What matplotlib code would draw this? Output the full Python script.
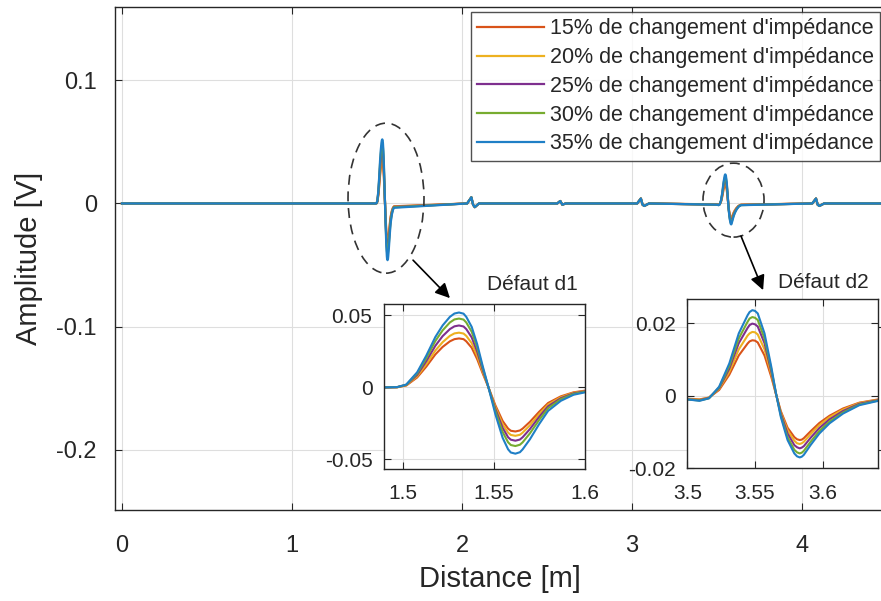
import numpy as np
import matplotlib
matplotlib.use("Agg")
import matplotlib.pyplot as plt
from matplotlib.patches import Ellipse

plt.rcParams['font.family'] = ['Liberation Sans', 'DejaVu Sans']

# series labels and colours (MATLAB default order)
labels = ["15% de changement d'impédance", "20% de changement d'impédance",
          "25% de changement d'impédance", "30% de changement d'impédance",
          "35% de changement d'impédance"]
colors = ['#D95319', '#EDB120', '#7E2F8E', '#77AC30', '#1f7fc6']

# defaut d1 (read from zoom)
d1_x = [1.490, 1.497, 1.502, 1.508, 1.513, 1.518, 1.522, 1.526, 1.5285, 1.531, 1.5335, 1.535, 1.538, 1.541,
        1.544, 1.547, 1.551, 1.555, 1.558, 1.5595, 1.562, 1.5645, 1.566, 1.570, 1.575, 1.580, 1.587,
        1.594, 1.600]
d1_15 = [0, 0.0001, 0.0013, 0.0069, 0.0144, 0.0229, 0.0281, 0.0320, 0.0335, 0.0340, 0.0335, 0.0320, 0.0275,
         0.0196, 0.0098, 0.0007, -0.0124, -0.0233, -0.0286, -0.0301, -0.0306, -0.0299, -0.0286, -0.0239,
         -0.0170, -0.0108, -0.0062, -0.0034, -0.0023]
d1_20 = [0, 0.0001, 0.0015, 0.0077, 0.0161, 0.0256, 0.0314, 0.0358, 0.0375, 0.0380, 0.0374, 0.0358, 0.0307,
         0.0219, 0.0110, 0.0007, -0.0136, -0.0256, -0.0314, -0.0330, -0.0336, -0.0329, -0.0314, -0.0263,
         -0.0187, -0.0119, -0.0068, -0.0037, -0.0026]
d1_25 = [0, 0.0002, 0.0017, 0.0087, 0.0182, 0.0289, 0.0356, 0.0405, 0.0424, 0.0430, 0.0423, 0.0405, 0.0347,
         0.0248, 0.0124, 0.0008, -0.0150, -0.0281, -0.0346, -0.0363, -0.0370, -0.0362, -0.0346, -0.0289,
         -0.0206, -0.0131, -0.0075, -0.0041, -0.0028]
d1_30 = [0, 0.0002, 0.0018, 0.0097, 0.0202, 0.0322, 0.0396, 0.0451, 0.0472, 0.0478, 0.0471, 0.0451, 0.0386,
         0.0276, 0.0138, 0.0009, -0.0165, -0.0310, -0.0381, -0.0400, -0.0407, -0.0398, -0.0381, -0.0319,
         -0.0227, -0.0144, -0.0082, -0.0045, -0.0031]
d1_35 = [0, 0.0002, 0.0020, 0.0105, 0.0220, 0.0350, 0.0430, 0.0490, 0.0513, 0.0520, 0.0512, 0.0490, 0.0420,
         0.0300, 0.0150, 0.0010, -0.0186, -0.0350, -0.0430, -0.0452, -0.0460, -0.0450, -0.0430, -0.0360,
         -0.0256, -0.0163, -0.0093, -0.0051, -0.0035]

# defaut d2
d2_x = [3.500, 3.509, 3.516, 3.5235, 3.531, 3.538, 3.5445, 3.546, 3.548, 3.550, 3.552, 3.557, 3.562,
        3.5655, 3.569, 3.574, 3.579, 3.581, 3.583, 3.5845, 3.586, 3.591, 3.5975, 3.605, 3.615, 3.627, 3.641]
d2_15 = [-0.0008, -0.0010, -0.0005, 0.0016, 0.0058, 0.0111, 0.0144, 0.0150, 0.0153, 0.0152, 0.0147, 0.0111,
         0.0052, 0.0004, -0.0042, -0.0088, -0.0114, -0.0120, -0.0122, -0.0121, -0.0117, -0.0098, -0.0075,
         -0.0055, -0.0035, -0.0019, -0.0010]
d2_20 = [-0.0009, -0.0011, -0.0005, 0.0019, 0.0066, 0.0128, 0.0166, 0.0172, 0.0176, 0.0175, 0.0169, 0.0128,
         0.0060, 0.0004, -0.0045, -0.0095, -0.0124, -0.0131, -0.0133, -0.0131, -0.0127, -0.0106, -0.0081,
         -0.0059, -0.0038, -0.0020, -0.0011]
d2_25 = [-0.0010, -0.0012, -0.0006, 0.0021, 0.0075, 0.0145, 0.0187, 0.0195, 0.0199, 0.0197, 0.0191, 0.0145,
         0.0067, 0.0005, -0.0049, -0.0104, -0.0136, -0.0142, -0.0145, -0.0143, -0.0139, -0.0116, -0.0089,
         -0.0065, -0.0042, -0.0022, -0.0012]
d2_30 = [-0.0010, -0.0013, -0.0007, 0.0023, 0.0082, 0.0158, 0.0204, 0.0213, 0.0217, 0.0215, 0.0209, 0.0158,
         0.0074, 0.0006, -0.0054, -0.0114, -0.0149, -0.0156, -0.0159, -0.0157, -0.0152, -0.0127, -0.0097,
         -0.0071, -0.0046, -0.0024, -0.0013]
d2_35 = [-0.0010, -0.0014, -0.0007, 0.0025, 0.0089, 0.0172, 0.0222, 0.0231, 0.0236, 0.0234, 0.0227, 0.0172,
         0.0080, 0.0006, -0.0058, -0.0122, -0.0159, -0.0167, -0.0170, -0.0168, -0.0163, -0.0136, -0.0104,
         -0.0076, -0.0049, -0.0026, -0.0014]

# small reflections elsewhere on the line
blip_x = [2.03, 2.055, 2.065, 2.075, 2.10, 2.56, 2.578, 2.59, 2.61, 3.03, 3.052, 3.062, 3.072, 3.10,
          4.06, 4.082, 4.092, 4.102, 4.13]
blip_y = [0, 0.005, -0.001, -0.003, 0, 0, 0.002, -0.001, 0, 0, 0.004, -0.001, -0.002, 0,
          0, 0.004, -0.001, -0.002, 0]
line_start, line_end = 0.0, 4.5

d1_all = [d1_15, d1_20, d1_25, d1_30, d1_35]
d2_all = [d2_15, d2_20, d2_25, d2_30, d2_35]

W, H = 881, 601
fig = plt.figure(figsize=(W / 100, H / 100), dpi=100)

def px_axes(l, t, r, b):
    return fig.add_axes([l / W, 1 - b / H, (r - l) / W, (b - t) / H])

def style(ax, fs):
    ax.grid(True, color='#dedede', lw=0.8)
    ax.set_axisbelow(True)
    ax.tick_params(direction='in', top=True, right=True, colors='#262626',
                   labelsize=fs, length=5, width=0.8)
    for s in ax.spines.values():
        s.set_color('#262626')
        s.set_linewidth(1.0)

ax = px_axes(115, 7, 884, 510)
for i in range(5):
    xs = np.concatenate([[line_start], d1_x, blip_x, d2_x, [line_end]])
    ys = np.concatenate([[0.0], d1_all[i], blip_y, d2_all[i], [0.0]])
    order = np.argsort(xs)
    ax.plot(xs[order], ys[order], color=colors[i], lw=1.6, label=labels[i])
ax.set_xlim(-0.041, 4.482)
ax.set_ylim(-0.2487, 0.1594)
ax.set_xticks([0, 1, 2, 3, 4])
ax.set_yticks([-0.2, -0.1, 0, 0.1])
ax.set_yticklabels(['-0.2', '-0.1', '0', '0.1'])
style(ax, 17)
ax.tick_params(axis='x', pad=18)
ax.tick_params(axis='y', pad=13)
ax.set_xlabel('Distance [m]', fontsize=21, color='#262626', labelpad=6)
ax.set_ylabel('Amplitude [V]', fontsize=21, color='#262626', labelpad=10)

leg = ax.legend(loc='upper right', bbox_to_anchor=(880 / W, 1 - 12 / H),
                bbox_transform=fig.transFigure, fontsize=15.5, frameon=True,
                fancybox=False, edgecolor='#262626', borderaxespad=0,
                handlelength=3.1, handletextpad=0.25, labelspacing=0.36,
                borderpad=0.3, labelcolor='#262626')
leg.get_frame().set_linewidth(1.0)
leg.set_zorder(5)

# dashed ellipses round the two faults
for (cx, cy, w, h) in [(1.553, 0.0043, 0.447, 0.1217), (3.597, 0.0027, 0.359, 0.060)]:
    ax.add_patch(Ellipse((cx, cy), w, h, fill=False, ls=(0, (6, 4)), lw=1.2,
                         edgecolor='#333333', zorder=4))

arrow = dict(arrowstyle='-|>', color='black', lw=1.2, mutation_scale=22, shrinkA=0, shrinkB=0)
ax.annotate('', xy=(1.929, -0.0768), xytext=(1.712, -0.046), arrowprops=arrow, zorder=4)
ax.annotate('', xy=(3.771, -0.0703), xytext=(3.641, -0.0265), arrowprops=arrow, zorder=4)

fig.text(532 / W, 1 - 284 / H, 'Défaut d1', ha='center', va='center', fontsize=15, color='#262626')
fig.text(823 / W, 1 - 283 / H, 'Défaut d2', ha='center', va='center', fontsize=15, color='#262626')

# inset d1
ax1 = px_axes(383.5, 304.3, 584.5, 468.5)
for i in range(5):
    ax1.plot(d1_x, d1_all[i], color=colors[i], lw=1.5)
ax1.set_xlim(1.4895, 1.5985)
ax1.set_ylim(-0.0563, 0.0577)
ax1.set_xticks([1.5, 1.55, 1.6])
ax1.set_xticklabels(['1.5', '1.55', '1.6'])
ax1.set_yticks([-0.05, 0, 0.05])
ax1.set_yticklabels(['-0.05', '0', '0.05'])
style(ax1, 15)
ax1.tick_params(axis='x', pad=11)
ax1.tick_params(axis='y', pad=8)

# inset d2
ax2 = px_axes(687.3, 299.3, 878.3, 468.3)
for i in range(5):
    ax2.plot(d2_x, d2_all[i], color=colors[i], lw=1.5)
ax2.set_xlim(3.5, 3.641)
ax2.set_ylim(-0.02, 0.0266)
ax2.set_xticks([3.5, 3.55, 3.6])
ax2.set_xticklabels(['3.5', '3.55', '3.6'])
ax2.set_yticks([-0.02, 0, 0.02])
ax2.set_yticklabels(['-0.02', '0', '0.02'])
style(ax2, 15)
ax2.tick_params(axis='x', pad=11)
ax2.tick_params(axis='y', pad=8)

fig.savefig('out.png', dpi=100)
